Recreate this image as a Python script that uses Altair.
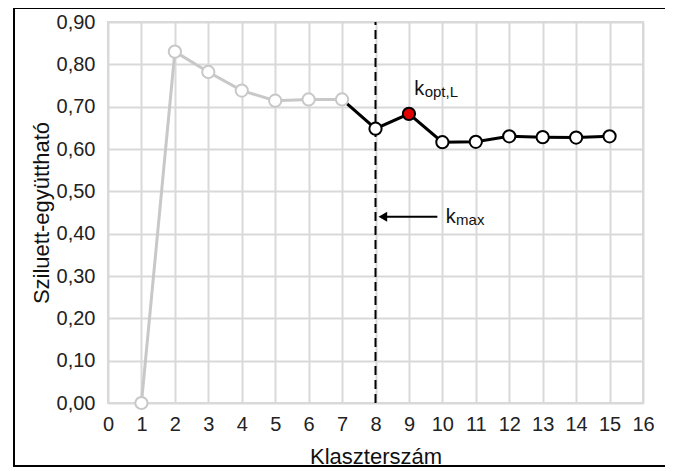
import altair as alt
import pandas as pd

# ---- data ----
clusters = list(range(1, 16))
silhouette = [0.00, 0.830, 0.782, 0.738, 0.714, 0.717, 0.717, 0.648, 0.683,
              0.616, 0.617, 0.630, 0.628, 0.627, 0.630]
x_ticks = list(range(0, 17))
y_ticks = [0.0, 0.1, 0.2, 0.3, 0.4, 0.5, 0.6, 0.7, 0.8, 0.9]
k_max = 8
k_opt = 9

FONT = "Liberation Sans"
GRAY = "#c8c8c8"

df = pd.DataFrame({"k": clusters, "s": silhouette})
df["grp"] = ["gray" if k <= 7 else "black" for k in clusters]
df["fill"] = ["red" if k == k_opt else "white" for k in clusters]

gray_df = df[df["k"] <= 7]
black_df = df[df["k"] >= 7]

xs = alt.Scale(domain=[0, 16], nice=False)
ys = alt.Scale(domain=[0, 0.9], nice=False)

xaxis = alt.Axis(values=x_ticks, title="Klaszterszám", format="d", labelFlush=False,
                 labelFontSize=20, titleFontSize=22, labelPadding=11, titlePadding=12)
yaxis = alt.Axis(values=y_ticks, title="Sziluett-együttható", labelFlush=False,
                 labelExpr="replace(format(datum.value, '.2f'), '.', ',')",
                 labelFontSize=20, titleFontSize=22, labelPadding=13, titlePadding=3)


def X(field):
    return alt.X(field, scale=xs, axis=xaxis)


def Y(field):
    return alt.Y(field, scale=ys, axis=yaxis)


border = alt.Chart(pd.DataFrame({"a": [0]})).mark_rect(
    fill=None, stroke="black", strokeWidth=2
).encode(x=alt.value(-94), x2=alt.value(558), y=alt.value(-14), y2=alt.value(444))

gray_line = alt.Chart(gray_df).mark_line(color=GRAY, strokeWidth=3).encode(x=X("k:Q"), y=Y("s:Q"))
black_line = alt.Chart(black_df).mark_line(color="black", strokeWidth=3).encode(x=X("k:Q"), y=Y("s:Q"))

points = alt.Chart(df).mark_point(filled=False, size=150, strokeWidth=2, opacity=1).encode(
    x=X("k:Q"), y=Y("s:Q"),
    stroke=alt.Color("grp:N", scale=alt.Scale(domain=["gray", "black"], range=[GRAY, "black"]), legend=None),
    fill=alt.Fill("fill:N", scale=alt.Scale(domain=["white", "red"], range=["white", "#e00000"]), legend=None),
)

vline_df = pd.DataFrame({"k": [k_max], "s": [0.0], "s2": [0.9]})
vline = alt.Chart(vline_df).mark_rule(color="black", strokeWidth=2, strokeDash=[9, 5]).encode(
    x=X("k:Q"), y=Y("s:Q"), y2="s2:Q"
)

arrow_df = pd.DataFrame({"k": [8.25], "k2": [9.85], "s": [0.44]})
arrow_line = alt.Chart(arrow_df).mark_rule(color="black", strokeWidth=2).encode(
    x=X("k:Q"), x2="k2:Q", y=Y("s:Q")
)
arrow_head = alt.Chart(pd.DataFrame({"k": [8.22], "s": [0.44]})).mark_point(
    shape="triangle-left", filled=True, color="black", size=100, opacity=1
).encode(x=X("k:Q"), y=Y("s:Q"))

lab_df = pd.DataFrame({
    "k": [9.16, 10.1],
    "s": [0.728, 0.4255],
    "t": ["k", "k"],
})
sub_df = pd.DataFrame({
    "k": [9.47, 10.41],
    "s": [0.723, 0.4215],
    "t": ["opt,L", "max"],
})
labels = alt.Chart(lab_df).mark_text(
    font=FONT, fontSize=20, align="left", baseline="alphabetic", color="#111"
).encode(x=X("k:Q"), y=Y("s:Q"), text="t:N")
subs = alt.Chart(sub_df).mark_text(
    font=FONT, fontSize=15, align="left", baseline="alphabetic", color="#111"
).encode(x=X("k:Q"), y=Y("s:Q"), text="t:N")

chart = alt.layer(
    border, gray_line, black_line, vline, arrow_line, arrow_head, points, labels, subs
).properties(
    width=535, height=381,
    autosize=alt.AutoSizeParams(type="none"),
    padding={"left": 100, "top": 14, "right": 22, "bottom": 64},
    background="white",
).configure_view(
    stroke="#d9d9d9", strokeWidth=2
).configure_axis(
    grid=True, gridColor="#d9d9d9", gridWidth=2, domain=False, ticks=False,
    labelFont=FONT, labelColor="#222",
    titleFont=FONT, titleColor="#111", titleFontWeight="normal",
)

chart.save("out.html", embed_options={"renderer": "svg", "actions": False})
